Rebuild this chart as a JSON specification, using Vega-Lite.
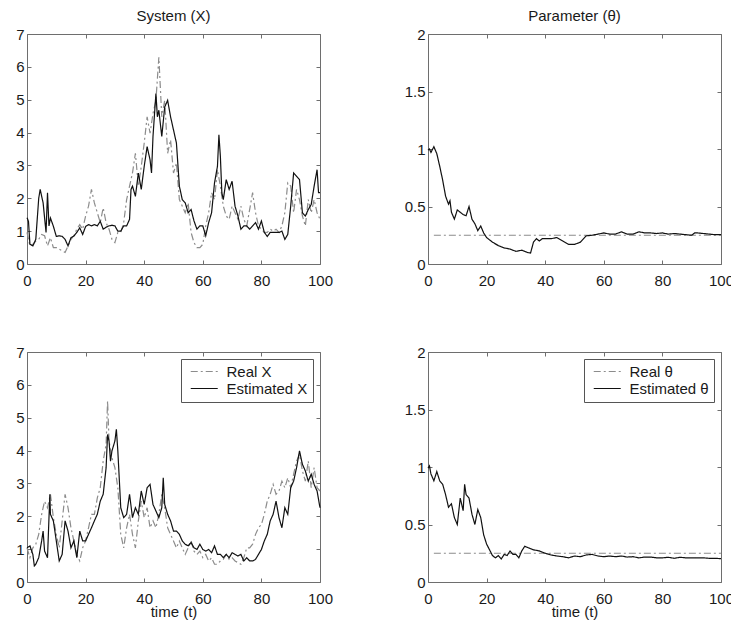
{
  "$schema": "https://vega.github.io/schema/vega-lite/v6.json",
  "padding": {"left": 15, "top": 8, "right": 0, "bottom": 0},
  "background": "white",
  "bounds": "flush",
  "columns": 2,
  "spacing": {"row": 88, "column": 108},
  "resolve": {"scale": {"color": "independent", "strokeDash": "independent"}},
  "datasets": {
    "x1r": [
      {"t":0,"v":0.96},{"t":1,"v":0.55},{"t":2,"v":0.6},{"t":3,"v":0.7},{"t":4,"v":0.75},{"t":5,"v":0.9},{"t":6,"v":0.86},{"t":7,"v":0.55},{"t":8,"v":0.8},{"t":9,"v":0.5},{"t":10,"v":0.5},{"t":11,"v":0.45},{"t":12,"v":0.4},{"t":13,"v":0.35},{"t":14,"v":0.55},{"t":15,"v":0.75},{"t":16,"v":0.86},{"t":17,"v":1.06},{"t":18,"v":1.2},{"t":19,"v":1.06},{"t":20,"v":1.46},{"t":21,"v":1.76},{"t":22,"v":2.27},{"t":23,"v":1.86},{"t":24,"v":1.56},{"t":25,"v":1.26},{"t":26,"v":1.71},{"t":27,"v":1.26},{"t":28,"v":1.06},{"t":29,"v":0.75},{"t":30,"v":0.65},{"t":31,"v":0.96},{"t":32,"v":0.96},{"t":33,"v":1.26},{"t":34,"v":1.96},{"t":35,"v":2.37},{"t":36,"v":2.77},{"t":37,"v":3.37},{"t":38,"v":2.37},{"t":39,"v":2.97},{"t":40,"v":3.68},{"t":41,"v":4.48},{"t":42,"v":3.98},{"t":43,"v":4.58},{"t":44,"v":4.98},{"t":45,"v":6.29},{"t":45.5,"v":5.39},{"t":46,"v":4.48},{"t":47,"v":4.98},{"t":48,"v":3.37},{"t":49,"v":3.78},{"t":50,"v":2.77},{"t":51,"v":3.07},{"t":52,"v":1.96},{"t":53,"v":1.76},{"t":54,"v":1.56},{"t":55,"v":1.86},{"t":56,"v":0.96},{"t":57,"v":0.65},{"t":58,"v":0.5},{"t":59,"v":0.5},{"t":60,"v":0.6},{"t":61,"v":1.16},{"t":62,"v":1.56},{"t":63,"v":2.17},{"t":64,"v":1.96},{"t":65,"v":2.87},{"t":66,"v":2.37},{"t":67,"v":1.76},{"t":68,"v":1.46},{"t":69,"v":1.36},{"t":70,"v":1.76},{"t":71,"v":1.56},{"t":72,"v":1.36},{"t":73,"v":1.76},{"t":74,"v":1.36},{"t":75,"v":1.16},{"t":76,"v":1.66},{"t":77,"v":2.17},{"t":78,"v":1.56},{"t":79,"v":1.16},{"t":80,"v":1.06},{"t":81,"v":0.96},{"t":82,"v":0.96},{"t":83,"v":1.06},{"t":84,"v":1.0},{"t":85,"v":1.06},{"t":86,"v":0.96},{"t":87,"v":1.16},{"t":88,"v":1.56},{"t":89,"v":2.47},{"t":90,"v":2.37},{"t":91,"v":1.56},{"t":92,"v":2.27},{"t":93,"v":1.96},{"t":94,"v":1.46},{"t":95,"v":1.16},{"t":96,"v":1.96},{"t":97,"v":1.56},{"t":98,"v":1.96},{"t":99,"v":1.56},{"t":100,"v":1.36}
    ],
    "x1e": [
      {"t":0,"v":1.41},{"t":0.5,"v":1.3},{"t":1,"v":0.6},{"t":2,"v":0.55},{"t":3,"v":0.75},{"t":4,"v":2.0},{"t":4.5,"v":2.27},{"t":5.5,"v":1.86},{"t":6.5,"v":0.96},{"t":7,"v":2.17},{"t":7.5,"v":1.16},{"t":8,"v":1.4},{"t":9,"v":1.15},{"t":10,"v":0.84},{"t":11,"v":0.86},{"t":12,"v":0.84},{"t":13,"v":0.75},{"t":14,"v":0.55},{"t":15,"v":0.8},{"t":16,"v":0.85},{"t":17,"v":0.96},{"t":18,"v":1.1},{"t":19,"v":0.9},{"t":20,"v":1.14},{"t":21,"v":1.2},{"t":22,"v":1.16},{"t":23,"v":1.2},{"t":24,"v":1.16},{"t":25,"v":1.3},{"t":26,"v":1.06},{"t":27,"v":1.12},{"t":28,"v":1.16},{"t":29,"v":1.18},{"t":30,"v":1.16},{"t":31,"v":1.0},{"t":32,"v":1.0},{"t":33,"v":1.16},{"t":34,"v":1.16},{"t":35,"v":1.36},{"t":35.5,"v":2.27},{"t":36,"v":2.37},{"t":37,"v":2.06},{"t":38,"v":2.77},{"t":39,"v":2.27},{"t":40,"v":2.97},{"t":41,"v":3.57},{"t":42,"v":3.17},{"t":42.5,"v":2.77},{"t":43,"v":3.88},{"t":44,"v":5.19},{"t":44.5,"v":4.48},{"t":45,"v":4.68},{"t":46,"v":3.88},{"t":47,"v":4.78},{"t":48,"v":4.98},{"t":49,"v":4.48},{"t":50,"v":4.08},{"t":51,"v":3.68},{"t":52,"v":2.37},{"t":53,"v":1.96},{"t":54,"v":1.86},{"t":55,"v":1.56},{"t":56,"v":1.66},{"t":57,"v":1.31},{"t":58,"v":1.06},{"t":59,"v":1.16},{"t":60,"v":1.16},{"t":61,"v":0.86},{"t":62,"v":1.26},{"t":63,"v":1.56},{"t":64,"v":2.47},{"t":65,"v":2.97},{"t":65.5,"v":3.93},{"t":66,"v":3.27},{"t":66.5,"v":2.17},{"t":67,"v":1.96},{"t":68,"v":2.57},{"t":69,"v":2.27},{"t":70,"v":2.52},{"t":71,"v":1.76},{"t":72,"v":1.46},{"t":73,"v":1.06},{"t":74,"v":1.16},{"t":75,"v":1.16},{"t":76,"v":1.06},{"t":77,"v":1.16},{"t":78,"v":1.26},{"t":79,"v":1.06},{"t":80,"v":1.31},{"t":81,"v":0.96},{"t":82,"v":0.84},{"t":83,"v":0.96},{"t":84,"v":0.96},{"t":85,"v":0.96},{"t":86,"v":0.96},{"t":87,"v":1.0},{"t":88,"v":0.75},{"t":89,"v":0.9},{"t":90,"v":1.76},{"t":91,"v":2.77},{"t":92,"v":2.67},{"t":93,"v":2.57},{"t":94,"v":1.56},{"t":95,"v":1.46},{"t":96,"v":1.66},{"t":97,"v":1.81},{"t":98,"v":2.37},{"t":99,"v":2.87},{"t":99.5,"v":2.17},{"t":100,"v":2.17}
    ],
    "p1r": [{"t":2,"v":0.25},{"t":100,"v":0.25}],
    "p1e": [
      {"t":0,"v":0.99},{"t":0.5,"v":1.0},{"t":1,"v":0.97},{"t":2,"v":1.02},{"t":3,"v":0.96},{"t":4,"v":0.85},{"t":5,"v":0.73},{"t":6,"v":0.59},{"t":7,"v":0.52},{"t":7.5,"v":0.55},{"t":8,"v":0.45},{"t":9,"v":0.39},{"t":10,"v":0.47},{"t":11,"v":0.45},{"t":12,"v":0.43},{"t":13,"v":0.42},{"t":14,"v":0.5},{"t":15,"v":0.39},{"t":16,"v":0.35},{"t":17,"v":0.29},{"t":18,"v":0.33},{"t":19,"v":0.27},{"t":20,"v":0.23},{"t":22,"v":0.19},{"t":24,"v":0.16},{"t":26,"v":0.14},{"t":28,"v":0.13},{"t":30,"v":0.11},{"t":32,"v":0.12},{"t":34,"v":0.1},{"t":35,"v":0.095},{"t":36,"v":0.19},{"t":37,"v":0.22},{"t":38,"v":0.2},{"t":39,"v":0.22},{"t":40,"v":0.22},{"t":42,"v":0.22},{"t":44,"v":0.23},{"t":46,"v":0.2},{"t":48,"v":0.17},{"t":50,"v":0.17},{"t":52,"v":0.19},{"t":54,"v":0.245},{"t":56,"v":0.25},{"t":58,"v":0.26},{"t":60,"v":0.27},{"t":62,"v":0.26},{"t":64,"v":0.26},{"t":66,"v":0.28},{"t":68,"v":0.26},{"t":70,"v":0.26},{"t":72,"v":0.28},{"t":74,"v":0.27},{"t":76,"v":0.27},{"t":78,"v":0.265},{"t":80,"v":0.27},{"t":82,"v":0.26},{"t":84,"v":0.265},{"t":86,"v":0.26},{"t":88,"v":0.255},{"t":90,"v":0.25},{"t":91,"v":0.27},{"t":92,"v":0.27},{"t":94,"v":0.265},{"t":96,"v":0.26},{"t":98,"v":0.255},{"t":100,"v":0.255}
    ],
    "x2r": [
      {"t":0,"v":1.04},{"t":1,"v":0.74},{"t":2,"v":1.04},{"t":3,"v":1.15},{"t":4,"v":1.45},{"t":5,"v":2.06},{"t":6,"v":2.46},{"t":7,"v":2.26},{"t":8,"v":2.67},{"t":9,"v":1.96},{"t":10,"v":1.45},{"t":11,"v":1.04},{"t":12,"v":1.86},{"t":13,"v":2.67},{"t":14,"v":2.26},{"t":15,"v":1.65},{"t":16,"v":1.25},{"t":17,"v":0.84},{"t":18,"v":0.64},{"t":19,"v":1.04},{"t":20,"v":1.25},{"t":21,"v":1.65},{"t":22,"v":2.06},{"t":23,"v":2.06},{"t":24,"v":2.56},{"t":25,"v":2.87},{"t":26,"v":3.68},{"t":27,"v":4.19},{"t":27.5,"v":5.51},{"t":28,"v":4.29},{"t":29,"v":3.78},{"t":30,"v":3.48},{"t":31,"v":2.87},{"t":32,"v":1.45},{"t":33,"v":1.04},{"t":34,"v":1.65},{"t":35,"v":2.06},{"t":36,"v":1.45},{"t":37,"v":1.04},{"t":38,"v":1.86},{"t":39,"v":2.46},{"t":40,"v":1.96},{"t":41,"v":2.26},{"t":42,"v":1.65},{"t":43,"v":1.86},{"t":44,"v":1.65},{"t":45,"v":2.06},{"t":46,"v":2.67},{"t":47,"v":2.26},{"t":48,"v":1.65},{"t":49,"v":1.45},{"t":50,"v":1.25},{"t":51,"v":1.04},{"t":52,"v":1.25},{"t":53,"v":1.04},{"t":54,"v":0.84},{"t":55,"v":1.04},{"t":56,"v":1.25},{"t":57,"v":0.94},{"t":58,"v":0.84},{"t":59,"v":0.94},{"t":60,"v":0.74},{"t":61,"v":0.84},{"t":62,"v":0.64},{"t":63,"v":0.74},{"t":64,"v":0.54},{"t":65,"v":0.54},{"t":66,"v":0.64},{"t":67,"v":0.69},{"t":68,"v":0.84},{"t":69,"v":0.69},{"t":70,"v":0.74},{"t":71,"v":0.64},{"t":72,"v":0.59},{"t":73,"v":0.54},{"t":74,"v":0.74},{"t":75,"v":1.04},{"t":76,"v":1.04},{"t":77,"v":1.15},{"t":78,"v":1.45},{"t":79,"v":1.65},{"t":80,"v":1.75},{"t":81,"v":2.06},{"t":82,"v":2.46},{"t":83,"v":2.67},{"t":84,"v":2.97},{"t":85,"v":2.67},{"t":86,"v":2.77},{"t":87,"v":3.07},{"t":88,"v":2.87},{"t":89,"v":3.17},{"t":90,"v":2.87},{"t":91,"v":3.28},{"t":92,"v":3.68},{"t":93,"v":3.88},{"t":94,"v":3.38},{"t":95,"v":3.07},{"t":96,"v":3.68},{"t":97,"v":2.87},{"t":98,"v":3.48},{"t":99,"v":2.87},{"t":100,"v":2.77}
    ],
    "x2e": [
      {"t":0,"v":1.04},{"t":1,"v":1.1},{"t":2,"v":0.84},{"t":2.5,"v":0.49},{"t":3,"v":0.54},{"t":4,"v":0.74},{"t":5,"v":1.25},{"t":5.5,"v":1.55},{"t":6,"v":0.94},{"t":7,"v":0.74},{"t":7.8,"v":2.67},{"t":8,"v":2.06},{"t":9,"v":1.86},{"t":10,"v":1.25},{"t":11,"v":0.64},{"t":12,"v":0.84},{"t":13,"v":1.86},{"t":14,"v":1.55},{"t":15,"v":1.04},{"t":16,"v":1.25},{"t":17,"v":0.74},{"t":18,"v":1.55},{"t":19,"v":1.25},{"t":20,"v":1.25},{"t":21,"v":1.45},{"t":22,"v":1.65},{"t":23,"v":1.86},{"t":24,"v":2.06},{"t":25,"v":2.46},{"t":26,"v":2.67},{"t":27,"v":3.48},{"t":27.5,"v":4.49},{"t":28,"v":4.29},{"t":28.5,"v":3.68},{"t":29,"v":3.99},{"t":30,"v":4.29},{"t":30.5,"v":4.65},{"t":31,"v":3.99},{"t":32,"v":2.26},{"t":33,"v":1.96},{"t":34,"v":2.06},{"t":35,"v":2.67},{"t":36,"v":1.96},{"t":37,"v":2.26},{"t":38,"v":2.06},{"t":39,"v":2.77},{"t":40,"v":2.36},{"t":41,"v":2.87},{"t":42,"v":2.97},{"t":43,"v":2.36},{"t":44,"v":2.16},{"t":45,"v":1.96},{"t":46,"v":2.26},{"t":46.5,"v":3.17},{"t":47,"v":2.36},{"t":48,"v":2.06},{"t":49,"v":1.86},{"t":50,"v":1.55},{"t":51,"v":1.55},{"t":52,"v":1.45},{"t":53,"v":1.25},{"t":54,"v":1.15},{"t":55,"v":1.1},{"t":56,"v":1.2},{"t":57,"v":1.04},{"t":58,"v":0.99},{"t":59,"v":1.15},{"t":60,"v":0.99},{"t":61,"v":0.94},{"t":62,"v":0.99},{"t":63,"v":0.89},{"t":64,"v":1.1},{"t":65,"v":0.84},{"t":66,"v":0.84},{"t":67,"v":0.74},{"t":68,"v":0.84},{"t":69,"v":0.74},{"t":70,"v":0.89},{"t":71,"v":0.84},{"t":72,"v":0.79},{"t":73,"v":0.84},{"t":74,"v":0.64},{"t":75,"v":0.74},{"t":76,"v":0.64},{"t":77,"v":0.64},{"t":78,"v":0.69},{"t":79,"v":0.84},{"t":80,"v":0.99},{"t":81,"v":1.25},{"t":82,"v":1.45},{"t":83,"v":1.86},{"t":84,"v":2.06},{"t":85,"v":2.46},{"t":86,"v":1.96},{"t":87,"v":1.65},{"t":88,"v":2.26},{"t":89,"v":2.06},{"t":90,"v":2.87},{"t":91,"v":3.07},{"t":92,"v":3.48},{"t":93,"v":3.99},{"t":94,"v":3.58},{"t":95,"v":3.38},{"t":96,"v":3.07},{"t":97,"v":3.28},{"t":98,"v":2.97},{"t":99,"v":2.77},{"t":100,"v":2.26}
    ],
    "p2r": [{"t":2,"v":0.25},{"t":100,"v":0.25}],
    "p2e": [
      {"t":0,"v":0.99},{"t":0.5,"v":1.01},{"t":1,"v":0.94},{"t":2,"v":0.88},{"t":3,"v":0.96},{"t":4,"v":0.88},{"t":5,"v":0.85},{"t":6,"v":0.76},{"t":7,"v":0.65},{"t":8,"v":0.68},{"t":8.5,"v":0.62},{"t":9,"v":0.56},{"t":10,"v":0.5},{"t":11,"v":0.73},{"t":12,"v":0.62},{"t":12.5,"v":0.85},{"t":13,"v":0.76},{"t":14,"v":0.73},{"t":15,"v":0.59},{"t":16,"v":0.5},{"t":17,"v":0.63},{"t":18,"v":0.56},{"t":19,"v":0.41},{"t":20,"v":0.33},{"t":21,"v":0.28},{"t":22,"v":0.23},{"t":23,"v":0.21},{"t":24,"v":0.23},{"t":25,"v":0.2},{"t":26,"v":0.24},{"t":27,"v":0.23},{"t":28,"v":0.27},{"t":29,"v":0.24},{"t":30,"v":0.24},{"t":31,"v":0.21},{"t":32,"v":0.27},{"t":33,"v":0.31},{"t":34,"v":0.3},{"t":36,"v":0.28},{"t":38,"v":0.27},{"t":40,"v":0.25},{"t":42,"v":0.235},{"t":44,"v":0.226},{"t":46,"v":0.22},{"t":48,"v":0.21},{"t":50,"v":0.226},{"t":52,"v":0.22},{"t":54,"v":0.235},{"t":56,"v":0.24},{"t":58,"v":0.226},{"t":60,"v":0.22},{"t":62,"v":0.226},{"t":64,"v":0.22},{"t":66,"v":0.226},{"t":68,"v":0.217},{"t":70,"v":0.22},{"t":72,"v":0.21},{"t":74,"v":0.217},{"t":76,"v":0.217},{"t":78,"v":0.21},{"t":80,"v":0.21},{"t":82,"v":0.215},{"t":84,"v":0.206},{"t":86,"v":0.215},{"t":88,"v":0.21},{"t":90,"v":0.21},{"t":92,"v":0.21},{"t":94,"v":0.21},{"t":96,"v":0.206},{"t":98,"v":0.206},{"t":100,"v":0.203}
    ]
  },
  "concat": [
    {
      "width": 293, "height": 230,
      "title": {"text": "System (X)"},
      "layer": [
        {"data": {"name": "x1r"}, "mark": {"type": "line", "strokeWidth": 1.2},
         "encoding": {
           "x": {"field": "t", "type": "quantitative", "scale": {"domain": [0, 100], "nice": false}, "axis": {"values": [0,20,40,60,80,100], "title": null}},
           "y": {"field": "v", "type": "quantitative", "scale": {"domain": [0, 7], "nice": false}, "axis": {"values": [0,1,2,3,4,5,6,7], "title": null}},
           "color": {"datum": "Real X", "scale": {"domain": ["Real X", "Estimated X"], "range": ["#8c8c8c", "#111111"]}, "legend": null},
           "strokeDash": {"datum": "Real X", "scale": {"domain": ["Real X", "Estimated X"], "range": [[7, 3, 2, 3], [1, 0]]}, "legend": null}
         }},
        {"data": {"name": "x1e"}, "mark": {"type": "line", "strokeWidth": 1.2},
         "encoding": {
           "x": {"field": "t", "type": "quantitative", "axis": null},
           "y": {"field": "v", "type": "quantitative", "axis": null},
           "color": {"datum": "Estimated X", "legend": null},
           "strokeDash": {"datum": "Estimated X", "legend": null}
         }},
        {"data": {"name": "x1e"}, "mark": {"type": "line", "opacity": 0},
         "encoding": {
           "x": {"field": "t", "type": "quantitative", "axis": {"orient": "top", "values": [0,20,40,60,80,100], "labels": false, "title": null}},
           "y": {"field": "v", "type": "quantitative", "axis": {"orient": "right", "values": [0,1,2,3,4,5,6,7], "labels": false, "title": null}}
         }}
      ],
      "resolve": {"axis": {"x": "independent", "y": "independent"}}
    },
    {
      "width": 293, "height": 230,
      "title": {"text": "Parameter (θ)"},
      "layer": [
        {"data": {"name": "p1r"}, "mark": {"type": "line", "strokeWidth": 1.2},
         "encoding": {
           "x": {"field": "t", "type": "quantitative", "scale": {"domain": [0, 100], "nice": false}, "axis": {"values": [0,20,40,60,80,100], "title": null}},
           "y": {"field": "v", "type": "quantitative", "scale": {"domain": [0, 2], "nice": false}, "axis": {"values": [0,0.5,1,1.5,2], "format": "~g", "title": null}},
           "color": {"datum": "Real θ", "scale": {"domain": ["Real θ", "Estimated θ"], "range": ["#8c8c8c", "#111111"]}, "legend": null},
           "strokeDash": {"datum": "Real θ", "scale": {"domain": ["Real θ", "Estimated θ"], "range": [[7, 3, 2, 3], [1, 0]]}, "legend": null}
         }},
        {"data": {"name": "p1e"}, "mark": {"type": "line", "strokeWidth": 1.2},
         "encoding": {
           "x": {"field": "t", "type": "quantitative", "axis": null},
           "y": {"field": "v", "type": "quantitative", "axis": null},
           "color": {"datum": "Estimated θ", "legend": null},
           "strokeDash": {"datum": "Estimated θ", "legend": null}
         }},
        {"data": {"name": "p1e"}, "mark": {"type": "line", "opacity": 0},
         "encoding": {
           "x": {"field": "t", "type": "quantitative", "axis": {"orient": "top", "values": [0,20,40,60,80,100], "labels": false, "title": null}},
           "y": {"field": "v", "type": "quantitative", "axis": {"orient": "right", "values": [0,0.5,1,1.5,2], "labels": false, "title": null}}
         }}
      ],
      "resolve": {"axis": {"x": "independent", "y": "independent"}}
    },
    {
      "width": 293, "height": 230,
      "layer": [
        {"data": {"name": "x2r"}, "mark": {"type": "line", "strokeWidth": 1.2},
         "encoding": {
           "x": {"field": "t", "type": "quantitative", "scale": {"domain": [0, 100], "nice": false}, "axis": {"values": [0,20,40,60,80,100], "title": "time (t)"}},
           "y": {"field": "v", "type": "quantitative", "scale": {"domain": [0, 7], "nice": false}, "axis": {"values": [0,1,2,3,4,5,6,7], "title": null}},
           "color": {"datum": "Real X", "scale": {"domain": ["Real X", "Estimated X"], "range": ["#8c8c8c", "#111111"]}, "legend": {"title": null}},
           "strokeDash": {"datum": "Real X", "scale": {"domain": ["Real X", "Estimated X"], "range": [[7, 3, 2, 3], [1, 0]]}, "legend": {"title": null}}
         }},
        {"data": {"name": "x2e"}, "mark": {"type": "line", "strokeWidth": 1.2},
         "encoding": {
           "x": {"field": "t", "type": "quantitative", "axis": null},
           "y": {"field": "v", "type": "quantitative", "axis": null},
           "color": {"datum": "Estimated X"},
           "strokeDash": {"datum": "Estimated X"}
         }},
        {"data": {"name": "x2e"}, "mark": {"type": "line", "opacity": 0},
         "encoding": {
           "x": {"field": "t", "type": "quantitative", "axis": {"orient": "top", "values": [0,20,40,60,80,100], "labels": false, "title": null}},
           "y": {"field": "v", "type": "quantitative", "axis": {"orient": "right", "values": [0,1,2,3,4,5,6,7], "labels": false, "title": null}}
         }}
      ],
      "resolve": {"axis": {"x": "independent", "y": "independent"}}
    },
    {
      "width": 293, "height": 230,
      "layer": [
        {"data": {"name": "p2r"}, "mark": {"type": "line", "strokeWidth": 1.2},
         "encoding": {
           "x": {"field": "t", "type": "quantitative", "scale": {"domain": [0, 100], "nice": false}, "axis": {"values": [0,20,40,60,80,100], "title": "time (t)"}},
           "y": {"field": "v", "type": "quantitative", "scale": {"domain": [0, 2], "nice": false}, "axis": {"values": [0,0.5,1,1.5,2], "format": "~g", "title": null}},
           "color": {"datum": "Real θ", "scale": {"domain": ["Real θ", "Estimated θ"], "range": ["#8c8c8c", "#111111"]}, "legend": {"title": null}},
           "strokeDash": {"datum": "Real θ", "scale": {"domain": ["Real θ", "Estimated θ"], "range": [[7, 3, 2, 3], [1, 0]]}, "legend": {"title": null}}
         }},
        {"data": {"name": "p2e"}, "mark": {"type": "line", "strokeWidth": 1.2},
         "encoding": {
           "x": {"field": "t", "type": "quantitative", "axis": null},
           "y": {"field": "v", "type": "quantitative", "axis": null},
           "color": {"datum": "Estimated θ"},
           "strokeDash": {"datum": "Estimated θ"}
         }},
        {"data": {"name": "p2e"}, "mark": {"type": "line", "opacity": 0},
         "encoding": {
           "x": {"field": "t", "type": "quantitative", "axis": {"orient": "top", "values": [0,20,40,60,80,100], "labels": false, "title": null}},
           "y": {"field": "v", "type": "quantitative", "axis": {"orient": "right", "values": [0,0.5,1,1.5,2], "labels": false, "title": null}}
         }}
      ],
      "resolve": {"axis": {"x": "independent", "y": "independent"}}
    }
  ],
  "config": {
    "font": "Liberation Sans",
    "view": {"stroke": "#6e6e6e", "strokeWidth": 1},
    "axis": {
      "domain": false, "grid": false, "ticks": true, "tickSize": -4, "tickColor": "#6e6e6e",
      "labelFontSize": 15, "labelColor": "#1a1a1a", "labelFlush": false, "labelOverlap": false,
      "titleFontSize": 15, "titleFontWeight": "normal", "titleColor": "#1a1a1a", "titlePadding": -2
    },
    "axisX": {"labelPadding": 13},
    "axisY": {"labelPadding": 7},
    "title": {"fontSize": 15, "fontWeight": "normal", "color": "#1a1a1a", "offset": 3, "anchor": "middle"},
    "legend": {
      "orient": "top-right", "offset": 7, "symbolType": "M-0.41,0L3.59,0", "symbolSize": 182.25, "symbolStrokeWidth": 1.2,
      "labelFontSize": 15, "labelColor": "#1a1a1a", "labelOffset": 25.5, "padding": 5, "rowPadding": 1,
      "strokeColor": "#555555", "fillColor": "white", "cornerRadius": 0
    }
  }
}
